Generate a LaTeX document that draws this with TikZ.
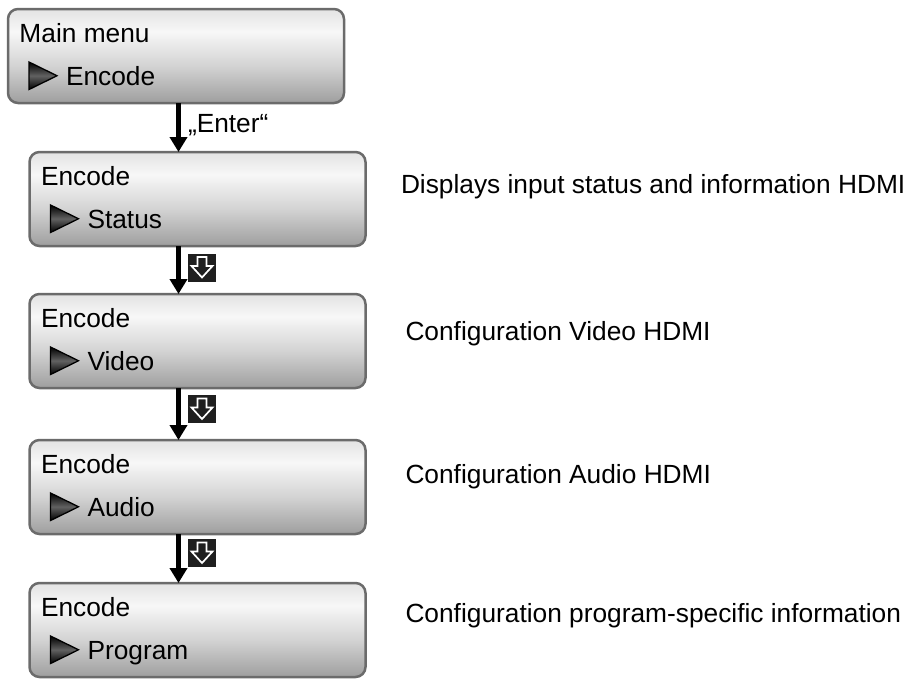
\documentclass[tikz,border=0pt]{standalone}
\usepackage{fontspec}
\setmainfont{Liberation Sans}
\usetikzlibrary{arrows.meta}
\pgfdeclareverticalshading{boxshade}{100bp}{color(0bp)=(black!38); color(25bp)=(black!38); color(45bp)=(black!17); color(63bp)=(black!3); color(75bp)=(black!11); color(100bp)=(black!11)}
\begin{document}
\begin{tikzpicture}[x=1pt,y=-1pt,
  menubox/.style={shade, shading=boxshade, draw=black!58, line width=2.5pt, rounded corners=10pt, minimum width=336pt, minimum height=94pt, inner sep=0pt, outer sep=0pt},
  lbl/.style={anchor=base west, inner sep=0pt, outer sep=0pt, font=\fontsize{26.3}{30}\selectfont},
  pointer/.style={top color=black, bottom color=black, middle color=black!62, draw=black, line width=1.3pt, line join=miter},
  flow/.style={line width=4.5pt, -{Triangle[width=17pt,length=15pt]}},
  keyicon/.style={fill=black!88, minimum size=28pt, inner sep=0pt, outer sep=0pt},
  keyarrow/.style={draw=white, line width=1.7pt, line join=miter}
]
\useasboundingbox (0,0) rectangle (915,678);

% menu boxes
\node[menubox] (b1) at (176,56) {};
\node[menubox] (b2) at (197.5,199) {};
\node[menubox] (b3) at (197.5,341) {};
\node[menubox] (b4) at (197.5,487) {};
\node[menubox] (b5) at (197.5,630) {};

% pointer triangles
\foreach \b in {b1,b2,b3,b4,b5}
  \path[pointer] ([shift={(21,53)}]\b.north west) -- ++(0,27.5) -- ++(28,-13.75) -- cycle;

% box texts
\node[lbl] (t1) at ([shift={(11.5,33)}]b1.north west) {Main menu};
\node[lbl] (s1) at ([shift={(58,76)}]b1.north west) {Encode};
\node[lbl] (t2) at ([shift={(11.5,33)}]b2.north west) {Encode};
\node[lbl] (s2) at ([shift={(58,76)}]b2.north west) {Status};
\node[lbl] (t3) at ([shift={(11.5,33)}]b3.north west) {Encode};
\node[lbl] (s3) at ([shift={(58,76)}]b3.north west) {Video};
\node[lbl] (t4) at ([shift={(11.5,33)}]b4.north west) {Encode};
\node[lbl] (s4) at ([shift={(58,76)}]b4.north west) {Audio};
\node[lbl] (t5) at ([shift={(11.5,33)}]b5.north west) {Encode};
\node[lbl] (s5) at ([shift={(58,76)}]b5.north west) {Program};

% connectors
\coordinate (ax) at (178.5,0);
\draw[flow] (b1.south -| ax) -- (b2.north -| ax);
\draw[flow] (b2.south -| ax) -- (b3.north -| ax);
\draw[flow] (b3.south -| ax) -- (b4.north -| ax);
\draw[flow] (b4.south -| ax) -- (b5.north -| ax);

\node[lbl] (enter) at (188,132) {„Enter“};

% down-key icons
\node[keyicon] (k1) at (202,267.5) {};
\node[keyicon] (k2) at (202,409) {};
\node[keyicon] (k3) at (202,553) {};
\foreach \k in {k1,k2,k3}
  \draw[keyarrow] ([shift={(-4.5,-10.5)}]\k.center) -- ++(9,0) -- ++(0,9) -- ++(6,0) -- ++(-10.5,11.5) -- ++(-10.5,-11.5) -- ++(6,0) -- cycle;

% descriptions
\node[lbl] (d2) at (401,193) {Displays input status and information HDMI};
\node[lbl] (d3) at (405.5,340) {Configuration Video HDMI};
\node[lbl] (d4) at (405.5,483) {Configuration Audio HDMI};
\node[lbl] (d5) at (405.5,622) {Configuration program-specific information};
\end{tikzpicture}
\end{document}
